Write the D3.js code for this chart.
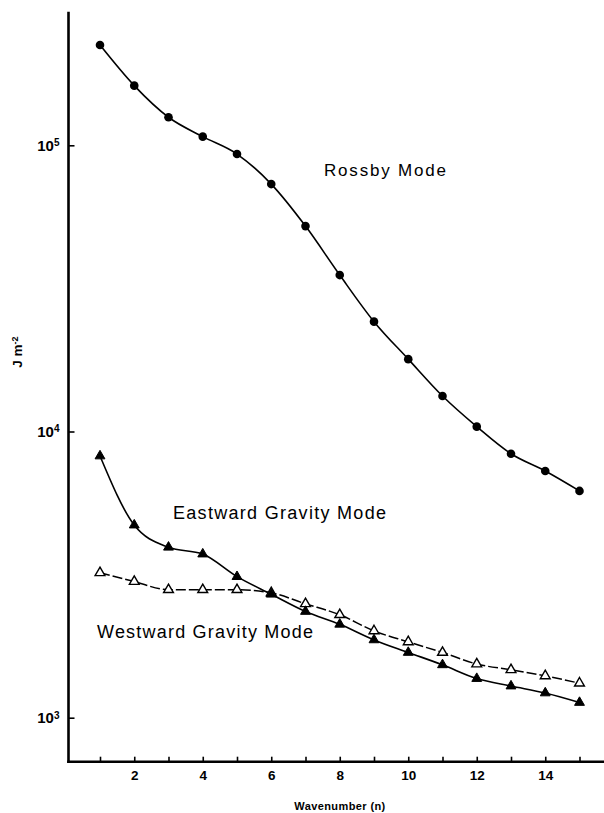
<!DOCTYPE html>
<html><head><meta charset="utf-8">
<script src="https://cdn.jsdelivr.net/npm/d3@7"></script>
<style>
body{margin:0;background:#fff;}
svg{display:block;}
text{font-family:"Liberation Sans",Arial,Helvetica,sans-serif;fill:#000;}
</style></head>
<body>
<div id="chart"></div>
<script>
const wavenumbers = [1,2,3,4,5,6,7,8,9,10,11,12,13,14,15];
const rossby   = [224000,161600,125300,107200,93200,73200,52200,35200,24200,17900,13300,10400,8360,7280,6200];
const eastward = [8210,4710,3940,3730,3110,2700,2350,2120,1870,1690,1530,1370,1290,1220,1130];
const westward = [3210,2990,2800,2800,2800,2730,2500,2290,2010,1840,1690,1540,1470,1400,1320];
const xTicks = [1,2,3,4,5,6,7,8,9,10,11,12,13,14,15];
const xTickLabels = {2:"2",4:"4",6:"6",8:"8",10:"10",12:"12",14:"14"};
const yTicks = [1e3,1e4,1e5];
const yTickExp = ["3","4","5"];

const W = 604, H = 813;
const svg = d3.select("#chart").append("svg").attr("width",W).attr("height",H);

const x = d3.scaleLinear().domain([1,15]).range([100,579.5]);
const y = d3.scaleLog().domain([1e3,1e5]).range([717.7,145.3]);

const axisX0 = 68.5, axisY0 = 761.7, axisTop = 11.7, axisRight = 604;

// X axis
const gx = svg.append("g").attr("transform",`translate(0,${axisY0})`)
  .call(d3.axisBottom(x).tickValues(xTicks).tickSizeInner(-5).tickSizeOuter(0).tickPadding(9)
        .tickFormat(d => xTickLabels[d] || ""));
gx.select(".domain").remove();
gx.selectAll(".tick line").attr("stroke","#000").attr("stroke-width",1.6);
gx.selectAll(".tick text").style("font-size","13.5px").style("font-weight","bold");

// Y axis
const gy = svg.append("g").attr("transform",`translate(${axisX0},0)`)
  .call(d3.axisLeft(y).tickValues(yTicks).tickSizeInner(-6).tickSizeOuter(0).tickPadding(9).tickFormat(""));
gy.select(".domain").remove();
gy.selectAll(".tick line").attr("stroke","#000").attr("stroke-width",1.6);
gy.selectAll(".tick text").each(function(d,i){
  const t = d3.select(this).style("font-size","15px").style("font-weight","bold");
  t.text(null);
  t.append("tspan").text("10");
  t.append("tspan").attr("dy","-0.45em").style("font-size","10px").text(yTickExp[i]);
});

// Axis lines
svg.append("line").attr("x1",axisX0).attr("x2",axisX0).attr("y1",axisTop).attr("y2",axisY0+1.3)
  .attr("stroke","#000").attr("stroke-width",2.6);
svg.append("line").attr("x1",axisX0-1.3).attr("x2",axisRight).attr("y1",axisY0).attr("y2",axisY0)
  .attr("stroke","#000").attr("stroke-width",2.6);

// Axis titles
svg.append("text").attr("transform","translate(22,352) rotate(-90)")
  .attr("text-anchor","middle").style("font-size","13.5px").style("font-weight","bold")
  .text("J m").append("tspan").attr("dy","-0.45em").style("font-size","9px").text("-2");
svg.append("text").attr("x",340).attr("y",810).attr("text-anchor","middle")
  .style("font-size","11px").style("font-weight","bold").style("letter-spacing","0.4px").text("Wavenumber  (n)");

// Lines
const line = d3.line().x((d,i)=>x(wavenumbers[i])).y(d=>y(d)).curve(d3.curveMonotoneX);
svg.append("path").attr("d",line(rossby)).attr("fill","none").attr("stroke","#000").attr("stroke-width",1.6);
svg.append("path").attr("d",line(westward)).attr("fill","none").attr("stroke","#000").attr("stroke-width",1.5)
  .attr("stroke-dasharray","10,3");
svg.append("path").attr("d",line(eastward)).attr("fill","none").attr("stroke","#000").attr("stroke-width",1.6);

// Markers
svg.append("g").selectAll("circle").data(rossby).join("circle")
  .attr("cx",(d,i)=>x(wavenumbers[i])).attr("cy",d=>y(d)).attr("r",4.3).attr("fill","#000");
const tri = d3.symbol().type(d3.symbolTriangle).size(42);
svg.append("g").selectAll("path").data(westward).join("path")
  .attr("d",tri).attr("transform",(d,i)=>`translate(${x(wavenumbers[i])},${y(d)})`)
  .attr("fill","#fff").attr("stroke","#000").attr("stroke-width",1.4);
svg.append("g").selectAll("path").data(eastward).join("path")
  .attr("d",tri).attr("transform",(d,i)=>`translate(${x(wavenumbers[i])},${y(d)})`)
  .attr("fill","#000").attr("stroke","#000").attr("stroke-width",1);

// Series labels
function label(txt,x0,yb,len,fs){
  svg.append("text").attr("x",x0).attr("y",yb).attr("textLength",len).attr("lengthAdjust","spacing")
    .style("font-size",fs+"px").text(txt);
}
label("Rossby Mode",324,175.5,122,17);
label("Eastward Gravity Mode",173,519,213,18);
label("Westward Gravity Mode",97,638,216,18);
</script>
</body></html>
